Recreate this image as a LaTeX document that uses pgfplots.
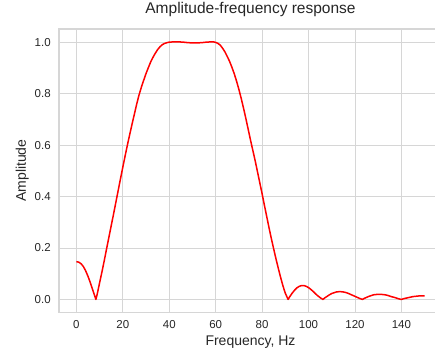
\documentclass[border=0pt]{standalone}
\usepackage{fontspec}
\setmainfont{Liberation Sans}
\usepackage{pgfplots}
\pgfplotsset{compat=1.18}
\usepackage{pgfplotstable}
\definecolor{gridc}{HTML}{D6D6D6}
\definecolor{txt}{HTML}{262626}

\pgfplotstableread{
x y
0 0.147
1 0.145
2 0.139
3 0.128
4 0.111
5 0.090
6 0.065
7 0.038
8 0.011
8.4 0.000
9 0.022
10 0.065
11 0.107
12 0.151
13 0.197
14 0.242
15 0.287
16 0.332
17 0.378
18 0.424
19 0.470
20 0.515
21 0.559
22 0.602
23 0.643
24 0.683
25 0.722
26 0.761
27 0.796
28 0.826
29 0.853
30 0.879
31 0.902
32 0.924
33 0.942
34 0.958
35 0.972
36 0.983
37 0.991
38 0.996
39 0.999
40 1.001
42 1.002
44 1.002
46 1.001
48 0.999
50 0.998
52 0.998
54 0.999
56 1.001
58 1.002
59 1.002
60 1.000
61 0.996
62 0.989
63 0.977
64 0.963
65 0.945
66 0.926
67 0.903
68 0.878
69 0.849
70 0.817
71 0.782
72 0.744
73 0.704
74 0.662
75 0.620
76 0.580
77 0.540
78 0.497
79 0.454
80 0.411
81 0.366
82 0.322
83 0.278
84 0.236
85 0.196
86 0.157
87 0.120
88 0.085
89 0.052
90 0.024
91.2 0.000
92 0.012
93 0.025
94 0.036
95 0.045
96 0.051
97 0.054
98 0.054
99 0.051
100 0.046
101 0.039
102 0.031
103 0.022
104 0.014
105 0.007
106.2 0.000
107 0.006
108 0.012
109 0.018
110 0.023
111 0.026
112 0.029
113 0.030
114 0.030
115 0.029
116 0.027
117 0.024
118 0.020
119 0.016
120 0.012
121 0.008
122 0.004
123.2 0.000
124 0.004
125 0.008
126 0.012
127 0.015
128 0.018
129 0.019
130 0.020
131 0.020
132 0.019
133 0.018
134 0.016
135 0.013
136 0.010
137 0.008
138 0.005
139 0.002
140 0.000
141 0.003
142 0.005
143 0.007
144 0.009
145 0.011
146 0.012
147 0.013
148 0.014
149 0.014
150 0.014
}\resp

\begin{document}
\begin{tikzpicture}
\begin{axis}[
  scale only axis,
  width=383pt, height=283.3pt,
  xmin=-7.5, xmax=157.5,
  ymin=-0.0501, ymax=1.0521,
  xtick={0,20,...,140},
  ytick={0,0.2,0.4,0.6,0.8,1.0},
  yticklabel style={/pgf/number format/fixed,/pgf/number format/fixed zerofill,/pgf/number format/precision=1, xshift=-4.8pt},
  xticklabel style={yshift=-4.6pt},
  /pgf/number format/assume math mode=true,
  ticklabel style={font=\fontsize{11.5}{13}\selectfont, text=txt},
  major tick length=0pt,
  grid=major,
  major grid style={gridc, line width=0.9pt},
  axis line style={gridc, line width=1.1pt},
  title={Amplitude-frequency response},
  title style={at={(axis description cs:0.5,1.0318)}, anchor=base, font=\fontsize{15.5}{17}\selectfont, text=txt},
  xlabel={Frequency, Hz},
  xlabel style={at={(axis description cs:0.5,-0.1179)}, anchor=base, font=\fontsize{14}{16}\selectfont, text=txt},
  ylabel={Amplitude},
  ylabel style={at={(axis description cs:-0.0862,0.5)}, anchor=base, rotate=0, font=\fontsize{14}{16}\selectfont, text=txt},
]
\addplot[red, line width=1.5pt, line join=round, no marks] table[x=x, y=y] {\resp};
\coordinate (bl) at (rel axis cs:0,0);
\coordinate (tl) at (rel axis cs:0,1);
\end{axis}
\pgfresetboundingbox
\path[use as bounding box] ([xshift=-59pt,yshift=-38.7pt]bl) rectangle ([xshift=376pt,yshift=29pt]tl);
\end{tikzpicture}
\end{document}
